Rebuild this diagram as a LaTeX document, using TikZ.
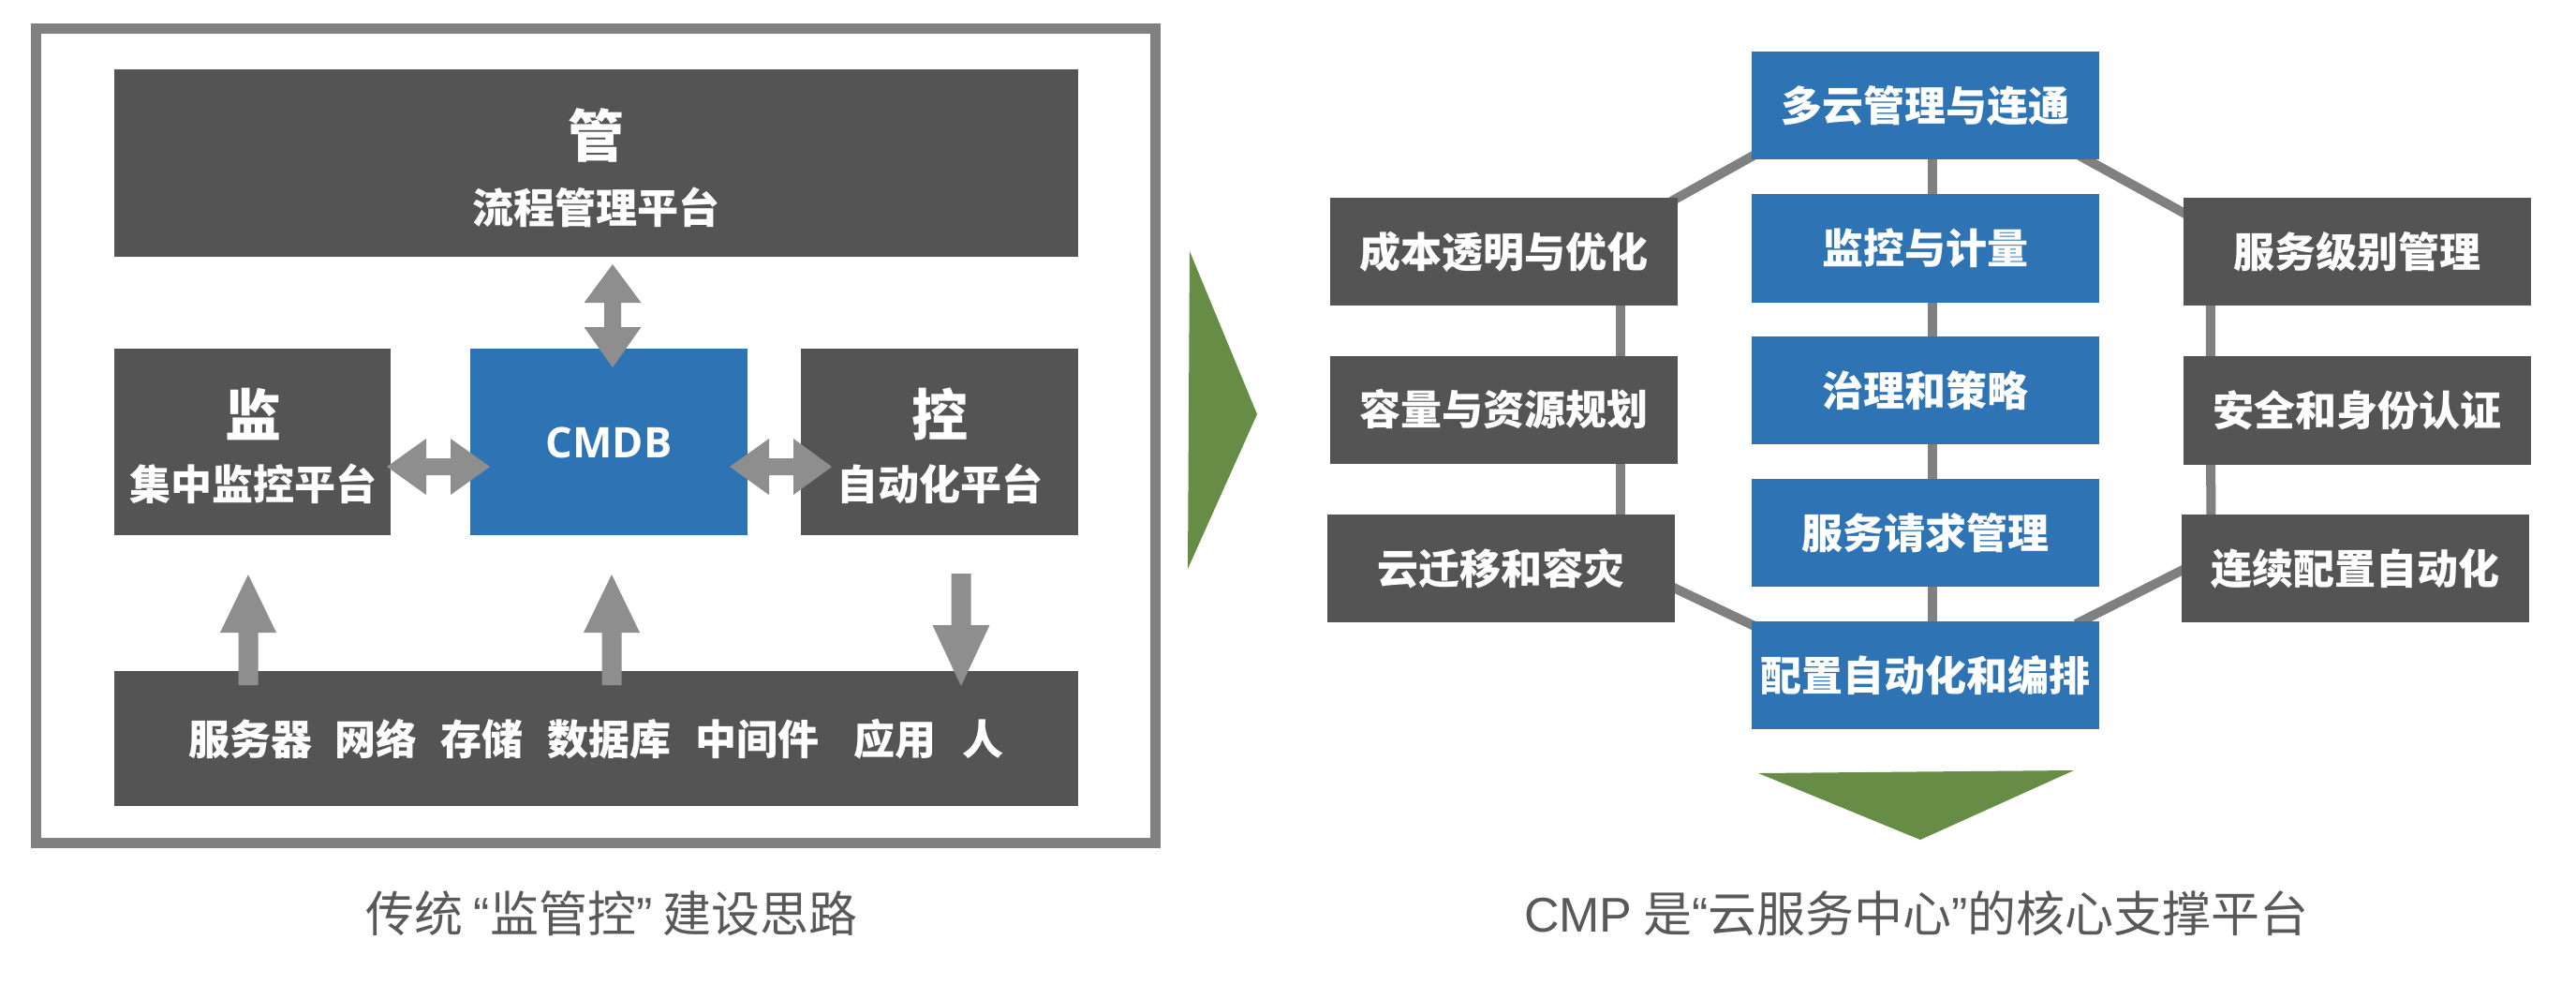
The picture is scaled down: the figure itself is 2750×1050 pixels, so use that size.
\documentclass[tikz,border=0pt]{standalone}
\usepackage{fontspec}
\setmainfont{Noto Sans CJK SC}
\newfontfamily\latinf{Liberation Sans}
\newfontfamily\cmdbf{Open Sans}
\usetikzlibrary{calc,backgrounds}
\definecolor{boxgray}{RGB}{84,84,84}
\definecolor{boxblue}{RGB}{46,116,181}
\definecolor{framegray}{RGB}{128,128,128}
\definecolor{arrowgray}{RGB}{142,142,142}
\definecolor{linegray}{RGB}{128,128,128}
\definecolor{capgray}{RGB}{89,89,89}
\definecolor{arrowgreen}{RGB}{103,140,70}
\tikzset{
  dbox/.style 2 args={fill=boxgray,draw=none,inner sep=0pt,minimum width=#1,minimum height=#2},
  bbox/.style 2 args={fill=boxblue,draw=none,inner sep=0pt,minimum width=#1,minimum height=#2},
  txt/.style={text=white,inner sep=0pt,font=\fontsize{44pt}{50pt}\selectfont\bfseries},
  bigtxt/.style={text=white,inner sep=0pt,font=\fontsize{60pt}{66pt}\selectfont\bfseries},
  captext/.style={text=capgray,inner sep=0pt,font=\fontsize{52pt}{58pt}\selectfont},
  fatarrow/.style={fill=arrowgray,draw=none},
  conn/.style={draw=linegray,line width=10pt},
  greentri/.style={fill=arrowgreen,draw=none}
}
\begin{document}
\begin{tikzpicture}[x=1pt,y=-1pt]
\useasboundingbox (0,0) rectangle (2750,1050);
% ---------------- left part ----------------
\draw[framegray,line width=11pt] (38.5,30.5) rectangle (1233.5,899);
\node[dbox={1029pt}{200pt}] (guan) at (636.5,174) {};
\node[bigtxt] (guant) at (636.5,144) {管};
\node[txt] (guans) at (636.5,221) {流程管理平台};
\node[dbox={295pt}{199pt}] (jian) at (269.5,471.5) {};
\node[bigtxt] (jiant) at (270,442) {监};
\node[txt] (jians) at (270,516) {集中监控平台};
\node[bbox={296pt}{199pt}] (cmdb) at (650,471.5) {};
\node[text=white,inner sep=0pt,font=\cmdbf\fontsize{45pt}{50pt}\selectfont\bfseries] (cmdbt) at (650,472) {CMDB};
\node[dbox={296pt}{199pt}] (kong) at (1003,471.5) {};
\node[bigtxt] (kongt) at (1003,442) {控};
\node[txt] (kongs) at (1003,516) {自动化平台};
\node[dbox={1029pt}{144pt}] (base) at (636.5,788) {};
\node[txt] (baset) at (636.5,789) {服务器\hspace{25pt}网络\hspace{25pt}存储\hspace{26pt}数据库\hspace{26pt}中间件\hspace{37pt}应用\hspace{28pt}人};
% fat arrows
\fill[fatarrow] (654,282) -- (684.5,323) -- (663,323) -- (663,349) -- (684.5,349) -- (654,392)
  -- (623.5,349) -- (645,349) -- (645,323) -- (623.5,323) -- cycle;
\fill[fatarrow] (413,498) -- (455,468) -- (455,489) -- (481,489) -- (481,468) -- (523,498)
  -- (481,528) -- (481,507) -- (455,507) -- (455,528) -- cycle;
\fill[fatarrow] (779,498) -- (821,468) -- (821,489) -- (847,489) -- (847,468) -- (888,498)
  -- (847,528) -- (847,507) -- (821,507) -- (821,528) -- cycle;
\fill[fatarrow] (265,613) -- (295,675) -- (275.5,675) -- (275.5,731) -- (254.5,731) -- (254.5,675) -- (235,675) -- cycle;
\fill[fatarrow] (653,613) -- (683,675) -- (663.5,675) -- (663.5,731) -- (642.5,731) -- (642.5,675) -- (623,675) -- cycle;
\fill[fatarrow] (1026,732) -- (1056.5,667) -- (1036.5,667) -- (1036.5,612) -- (1015.5,612) -- (1015.5,667) -- (995.5,667) -- cycle;
\node[captext] (capl) at (653,975) {传统 {\latinf “}监管控{\latinf ”} 建设思路};
% green arrows
\fill[greentri] (1270,268) -- (1342,442) -- (1268,607) -- cycle;
\fill[greentri] (1877,825) -- (2214,822) -- (2050,896) -- cycle;
% ---------------- right part ----------------
\node[bbox={371pt}{115pt},txt] (B1) at (2055.5,112.5) {多云管理与连通};
\node[bbox={371pt}{116pt},txt] (B2) at (2055.5,265) {监控与计量};
\node[bbox={371pt}{115pt},txt] (B3) at (2055.5,416.5) {治理和策略};
\node[bbox={371pt}{115pt},txt] (B4) at (2055.5,568.5) {服务请求管理};
\node[bbox={371pt}{115pt},txt] (B5) at (2055.5,720.5) {配置自动化和编排};
\node[dbox={371pt}{115pt},txt] (L1) at (1605.5,268.5) {成本透明与优化};
\node[dbox={371pt}{115pt},txt] (L2) at (1605.5,437) {容量与资源规划};
\node[dbox={371pt}{115pt},txt] (L3) at (1602.5,606.5) {云迁移和容灾};
\node[dbox={371pt}{115pt},txt] (R1) at (2516.5,268.5) {服务级别管理};
\node[dbox={371pt}{116pt},txt] (R2) at (2516.5,437.5) {安全和身份认证};
\node[dbox={371pt}{115pt},txt] (R3) at (2514,606.5) {连续配置自动化};
\begin{scope}[on background layer]
  \draw[conn] ($(B1.south)+(7,-5)$) -- ($(B5.north)+(7,5)$);
  \draw[conn] ($(L1.south east)+(-61,-5)$) -- ($(L3.north east)+(-58,5)$);
  \draw[conn] ($(R1.south west)+(29,-5)$) -- ($(R3.north west)+(32,5)$);
  \draw[conn] ($(L1.north east)+(-7,4)$) -- ($(B1.south west)+(7,-7)$);
  \draw[conn] ($(B1.south east)+(-21,-4)$) -- ($(R1.north west)+(7,20)$);
  \draw[conn] ($(B5.north east)+(-25,3)$) -- ($(R3.west)+(7,-1)$);
  \draw[conn] ($(L3.east)+(-7,18)$) -- ($(B5.north west)+(7,7)$);
\end{scope}
\node[captext] (capr) at (2046,975) {{\latinf CMP} 是{\latinf “}云服务中心{\latinf ”}的核心支撑平台};
\end{tikzpicture}
\end{document}
